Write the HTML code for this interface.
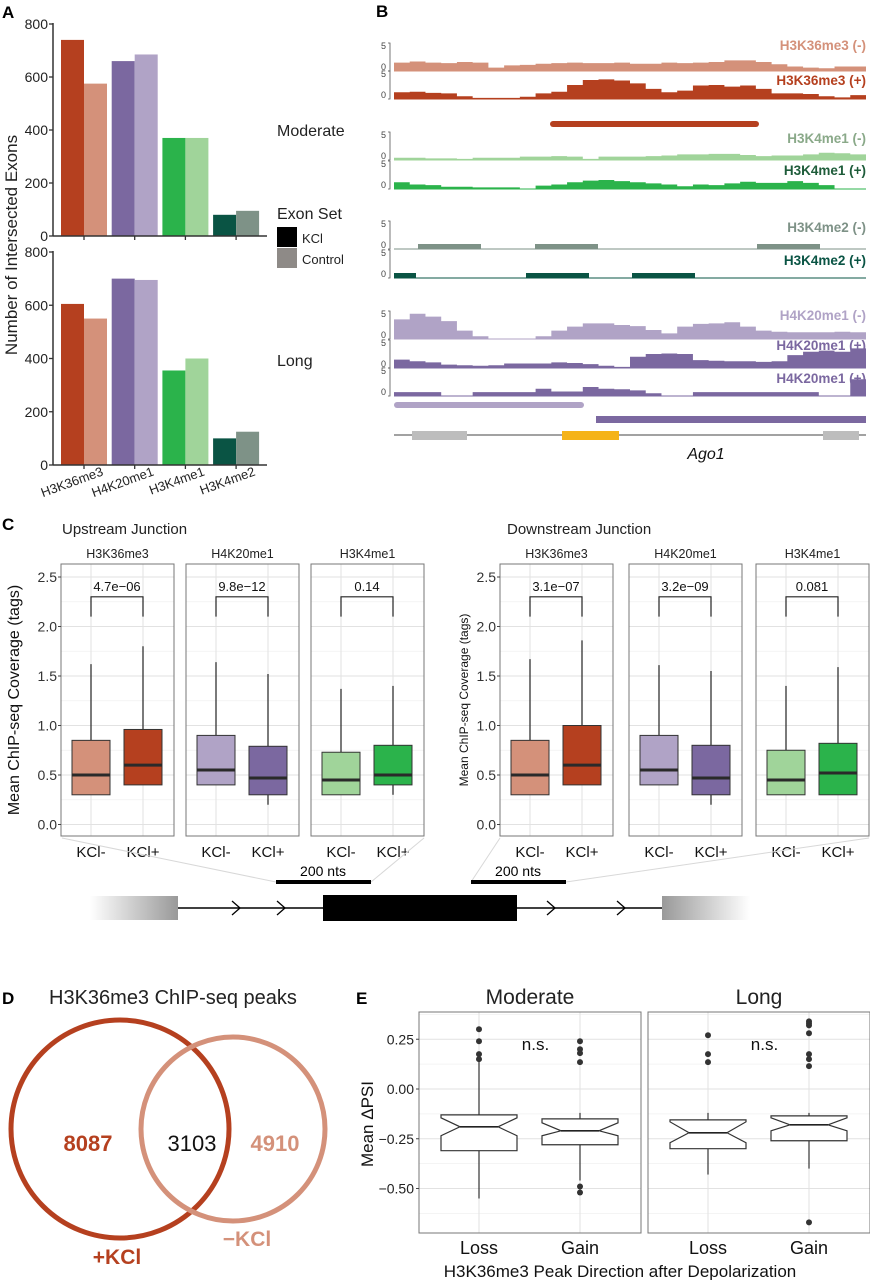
<!DOCTYPE html>
<html><head><meta charset="utf-8"><style>
html,body{margin:0;padding:0;background:#fff}
svg{display:block;font-family:"Liberation Sans",sans-serif}
</style></head><body>
<svg id="fig" width="870" height="1280" viewBox="0 0 870 1280" xmlns="http://www.w3.org/2000/svg">
<g id="gA"></g>
<g id="gB"></g>
<g id="gC"></g>
<g id="gD"></g>
<g id="gE"></g>
</svg>
<script>
// ---------- Panel A data ----------
const marks = ["H3K36me3","H4K20me1","H3K4me1","H3K4me2"];
const moderateKCl = [740,660,370,80];
const moderateControl = [575,685,370,95];
const longKCl = [605,700,355,100];
const longControl = [550,695,400,125];
const aTicks = [0,200,400,600,800];
// ---------- Panel B data (coverage 0-5) ----------
const h3k36Minus = [1.5,1.7,1.5,1.4,1.6,1.5,0.6,1.0,1.1,1.3,1.4,1.5,1.4,1.4,1.5,1.3,1.3,1.5,1.4,1.5,1.6,1.9,1.9,1.6,1.2,0.8,0.6,0.5,0.8,0.8];
const h3k36Plus = [1.2,1.3,1.1,1.0,0.5,0.2,0.2,0.2,0.4,1.0,1.3,2.5,3.4,3.5,3.3,2.8,1.8,1.2,1.5,2.4,2.5,2.2,2.4,1.8,1.0,1.0,0.9,0.5,0.3,0.7];
const h3k4me1Minus = [0.4,0.4,0.3,0.3,0.2,0.4,0.4,0.4,0.6,0.6,0.7,0.6,0.2,0.6,0.6,0.6,0.7,0.8,1.0,1.0,1.1,1.1,0.9,0.7,0.8,0.8,1.0,1.3,1.2,1.0];
const h3k4me1Plus = [1.2,0.8,0.7,0.4,0.4,0.3,0.3,0.3,0.1,0.6,0.8,1.2,1.5,1.6,1.4,1.2,1.0,0.8,0.5,0.8,0.7,1.0,1.3,1.1,1.1,1.4,1.1,0.7,0.1,0.1];
const h4k20Minus = [3.5,4.5,4.0,3.2,1.5,0.5,0.1,0.1,0.1,0.5,1.5,2.2,2.8,2.8,2.5,2.3,1.6,1.0,2.2,2.7,2.8,3.0,2.2,1.5,1.3,1.2,1.2,1.2,1.3,1.2];
const h4k20Plus = [1.5,1.2,1.0,0.6,0.5,0.4,0.5,0.8,0.8,0.8,1.0,0.9,0.7,0.4,0.2,2.0,2.5,2.6,2.5,1.4,1.3,1.2,1.2,1.1,1.2,2.3,2.9,3.1,2.9,3.5];
const h4k20Plus2 = [0.7,0.7,0.7,0.1,0.1,0.7,0.7,0.7,0.7,1.3,0.8,0.8,1.6,1.3,1.2,1.0,0.5,0.1,0.1,0.7,0.7,0.7,0.7,0.7,0.7,0.7,0.7,0.1,0.1,3.0];
// ---------- Panel C data [q1, median, q3, whiskerLow, whiskerHigh] ----------
const cGroups = ["KCl-","KCl+"];
const cFacets = ["H3K36me3","H4K20me1","H3K4me1"];
const upStats = [
 [[0.3,0.5,0.85,0.3,1.62],[0.4,0.6,0.96,0.4,1.8]],
 [[0.4,0.55,0.9,0.4,1.64],[0.3,0.47,0.79,0.2,1.52]],
 [[0.3,0.45,0.73,0.3,1.37],[0.4,0.5,0.8,0.3,1.4]]];
const downStats = [
 [[0.3,0.5,0.85,0.3,1.67],[0.4,0.6,1.0,0.4,1.86]],
 [[0.4,0.55,0.9,0.4,1.61],[0.3,0.47,0.8,0.2,1.55]],
 [[0.3,0.45,0.75,0.3,1.4],[0.3,0.52,0.82,0.3,1.59]]];
const upP = ["4.7e\u221206","9.8e\u221212","0.14"];
const downP = ["3.1e\u221207","3.2e\u221209","0.081"];
const cTicks = [0,0.5,1.0,1.5,2.0,2.5];
// ---------- Panel D data ----------
const vennCounts = [8087,3103,4910];
// ---------- Panel E data [q1, median, q3, notchLow, notchHigh, whiskerLow, whiskerHigh] ----------
const eFacets = ["Moderate","Long"];
const eGroups = ["Loss","Gain"];
const eStats = [
 [[-0.31,-0.19,-0.13,-0.235,-0.145,-0.55,0.14],[-0.28,-0.21,-0.15,-0.235,-0.17,-0.46,-0.12]],
 [[-0.30,-0.22,-0.155,-0.27,-0.165,-0.43,-0.12],[-0.26,-0.18,-0.135,-0.21,-0.145,-0.40,-0.12]]];
const eOutliers = [
 [[0.30,0.24,0.175,0.15],[0.24,0.20,0.18,0.135,-0.49,-0.52]],
 [[0.27,0.175,0.135],[0.34,0.33,0.32,0.28,0.175,0.15,0.115,-0.67]]];
const eTicks = [0.25,0,-0.25,-0.5];
const eTickLabels = ["0.25","0.00","\u22120.25","\u22120.50"];

const NS="http://www.w3.org/2000/svg";
function mk(parent,tag,attrs,text){const e=document.createElementNS(NS,tag);for(const k in attrs)e.setAttribute(k,attrs[k]);if(text!==undefined)e.textContent=text;parent.appendChild(e);return e;}

// ================= PANEL A =================
const gA=document.getElementById('gA');
const colKCl={H3K36me3:"#b5401f",H4K20me1:"#7b68a0",H3K4me1:"#2bb34b",H3K4me2:"#0a5444"};
const colCtl={H3K36me3:"#d4917a",H4K20me1:"#b0a3c6",H3K4me1:"#a0d49a",H3K4me2:"#7e9287"};
let t=mk(gA,'text',{x:2,y:18,'font-size':17,'font-weight':'bold'},'A');


function xA(i){return 84+i*50.7;}
function drawBarPanel(zeroY,topY,kcl,ctl,nm){
  const yS=v=>zeroY-(v/800)*(zeroY-topY);
  const g=mk(gA,'g',{});
  
  
  marks.forEach((m,i)=>{
    let r=mk(g,'rect',{x:xA(i)-23,y:yS(kcl[i]),width:23,height:zeroY-yS(kcl[i]),fill:colKCl[m]});
    
    
    let r2=mk(g,'rect',{x:xA(i),y:yS(ctl[i]),width:23,height:zeroY-yS(ctl[i]),fill:colCtl[m]});
    
    
    mk(g,'line',{x1:xA(i),x2:xA(i),y1:zeroY,y2:zeroY+4,stroke:'#333','stroke-width':1.3});
  });
  mk(g,'line',{x1:53,x2:53,y1:topY-1,y2:zeroY,stroke:'#333','stroke-width':1.5});
  mk(g,'line',{x1:53,x2:267,y1:zeroY,y2:zeroY,stroke:'#333','stroke-width':1.5});
  aTicks.forEach(v=>{
    mk(g,'line',{x1:49,x2:53,y1:yS(v),y2:yS(v),stroke:'#333','stroke-width':1.3});
    let tl=mk(g,'text',{x:48,y:yS(v)+5,'font-size':14,'text-anchor':'end',fill:'#222'},String(v));
    
    
  });
}
drawBarPanel(236,24,moderateKCl,moderateControl,'moderate');
drawBarPanel(465,252,longKCl,longControl,'long');
marks.forEach((m,i)=>{
  let tl=mk(gA,'text',{x:xA(i)+20,y:475,'font-size':13,'text-anchor':'end',transform:`rotate(-20 ${xA(i)+20} 475)`,fill:'#222'},m);
  
  
});
t=mk(gA,'text',{x:17,y:245,'font-size':17,'text-anchor':'middle',transform:'rotate(-90 17 245)',fill:'#222'},'Number of Intersected Exons');


t=mk(gA,'text',{x:277,y:136,'font-size':16,fill:'#222'},'Moderate');


t=mk(gA,'text',{x:277,y:366,'font-size':16,fill:'#222'},'Long');


t=mk(gA,'text',{x:277,y:219,'font-size':16,fill:'#222'},'Exon Set');


let lg=mk(gA,'g',{});


mk(lg,'rect',{x:277,y:227,width:20,height:20,fill:'#000'});
mk(lg,'text',{x:302,y:243,'font-size':13,fill:'#222'},'KCl');
lg=mk(gA,'g',{});


mk(lg,'rect',{x:277,y:248,width:20,height:20,fill:'#8e8a87'});
mk(lg,'text',{x:302,y:264,'font-size':13,fill:'#222'},'Control');

// ================= PANEL B =================
const gB=document.getElementById('gB');
t=mk(gB,'text',{x:376,y:17,'font-size':17,'font-weight':'bold'},'B');


const bx0=394,bx1=866;
function scaleLabels(g,base){
  mk(g,'path',{d:`M388,${base-28} H390 V${base} H388`,fill:'none',stroke:'#555','stroke-width':0.8});
  mk(g,'text',{x:386,y:base-22,'font-size':9,'text-anchor':'end',fill:'#444'},'5');
  mk(g,'text',{x:386,y:base-1,'font-size':9,'text-anchor':'end',fill:'#444'},'0');
}
function track(vals,base,color,label,lcolor,ly,nm){
  const g=mk(gB,'g',{});
  
  
  const w=(bx1-bx0)/vals.length;
  let d=`M${bx0},${base}`;
  vals.forEach((v,i)=>{const y=base-v/5*28;d+=` L${bx0+i*w},${y} L${bx0+(i+1)*w},${y}`;});
  d+=` L${bx1},${base} Z`;
  mk(g,'path',{d:d,fill:color});
  mk(g,'line',{x1:bx0,x2:bx1,y1:base,y2:base,stroke:color,'stroke-width':1});
  scaleLabels(g,base);
  mk(g,'text',{x:866,y:ly,'font-size':13.5,'font-weight':'bold','text-anchor':'end',fill:lcolor},label);
}
track(h3k36Minus,71,'#d4917a','H3K36me3 (-)','#d4917a',50,'track-h3k36me3-minus');
track(h3k36Plus,99,'#b5401f','H3K36me3 (+)','#b5401f',85,'track-h3k36me3-plus');
mk(gB,'rect',{x:550,y:121,width:209,height:6,rx:3,fill:'#b5401f'});
track(h3k4me1Minus,160,'#a0d49a','H3K4me1 (-)','#8aa989',143,'track-h3k4me1-minus');
track(h3k4me1Plus,189,'#2bb34b','H3K4me1 (+)','#1e5c3a',175,'track-h3k4me1-plus');
function blockTrack(blocks,base,color,label,lcolor,ly,nm){
  const g=mk(gB,'g',{});
  
  
  mk(g,'line',{x1:bx0,x2:bx1,y1:base,y2:base,stroke:color,'stroke-width':1});
  blocks.forEach(b=>mk(g,'rect',{x:b[0],y:base-5,width:b[1]-b[0],height:5,fill:color}));
  scaleLabels(g,base);
  mk(g,'text',{x:866,y:ly,'font-size':13.5,'font-weight':'bold','text-anchor':'end',fill:lcolor},label);
}
blockTrack([[418,481],[535,598],[757,820]],249,'#7e9287','H3K4me2 (-)','#7e9287',232,'track-h3k4me2-minus');
blockTrack([[394,416],[526,589],[632,695]],278,'#0a5444','H3K4me2 (+)','#0a5444',265,'track-h3k4me2-plus');
track(h4k20Minus,339,'#b0a3c6','H4K20me1 (-)','#b0a3c6',320,'track-h4k20me1-minus');
track(h4k20Plus,368,'#7b68a0','H4K20me1 (+)','#7b68a0',350,'track-h4k20me1-plus');
track(h4k20Plus2,396,'#7b68a0','H4K20me1 (+)','#7b68a0',383,'track-h4k20me1-plus-2');
mk(gB,'rect',{x:394,y:402,width:190,height:6,rx:3,fill:'#b0a3c6'});
mk(gB,'rect',{x:596,y:416,width:270,height:7,fill:'#7b68a0'});
let gene=mk(gB,'g',{});


mk(gene,'line',{x1:394,x2:866,y1:435,y2:435,stroke:'#444','stroke-width':1});
mk(gene,'rect',{x:412,y:431,width:55,height:9,fill:'#bdbdbd'});
mk(gene,'rect',{x:823,y:431,width:36,height:9,fill:'#bdbdbd'});
mk(gene,'rect',{x:562,y:431,width:57,height:9,fill:'#f5b318'});
mk(gene,'text',{x:706,y:459,'font-size':16,'font-style':'italic','text-anchor':'middle',fill:'#111'},'Ago1');

// ================= PANEL C =================
const gC=document.getElementById('gC');
t=mk(gC,'text',{x:2,y:530,'font-size':17,'font-weight':'bold'},'C');


const cZero=824.5,cUnit=99;
const yC=v=>cZero-v*cUnit;
const cMinusCol=["#d4917a","#b0a3c6","#a0d49a"];
const cPlusCol=["#b5401f","#7b68a0","#2bb34b"];
function drawJunction(facetX,stats,pvals,title,titleX,nm,tickX){
  const g=mk(gC,'g',{});
  
  
  mk(g,'text',{x:titleX,y:534,'font-size':15,fill:'#222'},title);
  facetX.forEach((fx,f)=>{
    const x0=fx,x1=fx+113,top=564,bot=836;
    const fg=mk(g,'g',{});
    
    
    mk(fg,'text',{x:(x0+x1)/2,y:558,'font-size':12.5,'text-anchor':'middle',fill:'#222'},cFacets[f]);
    for(let v=0.25;v<2.7;v+=0.5) mk(fg,'line',{x1:x0,x2:x1,y1:yC(v),y2:yC(v),stroke:'#f0f0f0','stroke-width':0.7});
    cTicks.forEach(v=>mk(fg,'line',{x1:x0,x2:x1,y1:yC(v),y2:yC(v),stroke:'#e2e2e2','stroke-width':1}));
    const cx=[x0+30,x0+82];
    cx.forEach(c=>mk(fg,'line',{x1:c,x2:c,y1:top,y2:bot,stroke:'#e2e2e2','stroke-width':1}));
    stats[f].forEach((s,k)=>{
      const c=cx[k];
      mk(fg,'line',{x1:c,x2:c,y1:yC(s[4]),y2:yC(s[3]),stroke:'#333','stroke-width':1.3});
      let b=mk(fg,'rect',{x:c-19,y:yC(s[2]),width:38,height:yC(s[0])-yC(s[2]),fill:k?cPlusCol[f]:cMinusCol[f],stroke:'#333','stroke-width':1});
      
      
      mk(fg,'line',{x1:c-19,x2:c+19,y1:yC(s[1]),y2:yC(s[1]),stroke:'#2a2a2a','stroke-width':3});
      mk(fg,'text',{x:c,y:857,'font-size':15,'text-anchor':'middle',fill:'#111'},cGroups[k]);
    });
    mk(fg,'path',{d:`M${cx[0]},${yC(2.1)} V${yC(2.3)} H${cx[1]} V${yC(2.1)}`,fill:'none',stroke:'#222','stroke-width':1.2});
    mk(fg,'text',{x:(cx[0]+cx[1])/2,y:yC(2.36),'font-size':13,'text-anchor':'middle',fill:'#111'},pvals[f]);
    mk(fg,'rect',{x:x0,y:top,width:113,height:bot-top,fill:'none',stroke:'#777','stroke-width':1});
  });
  cTicks.forEach(v=>{
    mk(g,'line',{x1:facetX[0]-3,x2:facetX[0],y1:yC(v),y2:yC(v),stroke:'#444'});
    mk(g,'text',{x:tickX,y:yC(v)+5,'font-size':14,'text-anchor':'end',fill:'#333'},v.toFixed(1));
  });
}
drawJunction([61,186,311],upStats,upP,'Upstream Junction',62,'upstream-junction',57);
drawJunction([500,629,756],downStats,downP,'Downstream Junction',507,'downstream-junction',496);
t=mk(gC,'text',{x:19,y:700,'font-size':16,'text-anchor':'middle',transform:'rotate(-90 19 700)',fill:'#111'},'Mean ChIP-seq Coverage (tags)');


t=mk(gC,'text',{x:468,y:700,'font-size':12,'text-anchor':'middle',transform:'rotate(-90 468 700)',fill:'#111'},'Mean ChIP-seq Coverage (tags)');


// junction diagram
const dg=mk(gC,'g',{});


const defs=mk(dg,'defs',{});
let lgL=mk(defs,'linearGradient',{id:'gl',x1:0,x2:1,y1:0,y2:0});
mk(lgL,'stop',{offset:0,'stop-color':'#fff'});mk(lgL,'stop',{offset:1,'stop-color':'#999'});
let lgR=mk(defs,'linearGradient',{id:'gr',x1:0,x2:1,y1:0,y2:0});
mk(lgR,'stop',{offset:0,'stop-color':'#999'});mk(lgR,'stop',{offset:1,'stop-color':'#fff'});
[[276,882,62,838],[371,882,424,838],[471,882,500,838],[566,882,869,838]].forEach(l=>mk(dg,'line',{x1:l[0],y1:l[1],x2:l[2],y2:l[3],stroke:'#d8d8d8','stroke-width':1}));
mk(dg,'rect',{x:90,y:896,width:88,height:24,fill:'url(#gl)'});
mk(dg,'rect',{x:662,y:896,width:88,height:24,fill:'url(#gr)'});
mk(dg,'line',{x1:178,x2:662,y1:908,y2:908,stroke:'#000','stroke-width':1.5});
mk(dg,'rect',{x:323,y:895,width:194,height:26,fill:'#000'});
[240,285,555,625].forEach(x=>mk(dg,'path',{d:`M${x-8},${901} L${x},908 L${x-8},915`,fill:'none',stroke:'#000','stroke-width':1.3}));
mk(dg,'rect',{x:276,y:880,width:95,height:4,fill:'#000'});
mk(dg,'rect',{x:471,y:880,width:95,height:4,fill:'#000'});
mk(dg,'text',{x:323,y:876,'font-size':14,'text-anchor':'middle'},'200 nts');
mk(dg,'text',{x:518,y:876,'font-size':14,'text-anchor':'middle'},'200 nts');

// ================= PANEL D =================
const gD=document.getElementById('gD');
t=mk(gD,'text',{x:2,y:1004,'font-size':17,'font-weight':'bold'},'D');


t=mk(gD,'text',{x:49,y:1004,'font-size':20,fill:'#222'},'H3K36me3 ChIP-seq peaks');


let c1=mk(gD,'circle',{cx:120,cy:1129,r:109,fill:'none',stroke:'#b5401f','stroke-width':5});


let c2=mk(gD,'circle',{cx:233,cy:1129,r:92,fill:'none',stroke:'#d4917a','stroke-width':5});


t=mk(gD,'text',{x:88,y:1151,'font-size':22,'font-weight':'bold','text-anchor':'middle',fill:'#b5401f'},String(vennCounts[0]));


t=mk(gD,'text',{x:192,y:1151,'font-size':22,'text-anchor':'middle',fill:'#111'},String(vennCounts[1]));


t=mk(gD,'text',{x:275,y:1151,'font-size':22,'font-weight':'bold','text-anchor':'middle',fill:'#d4917a'},String(vennCounts[2]));


t=mk(gD,'text',{x:117,y:1264,'font-size':21,'font-weight':'bold','text-anchor':'middle',fill:'#b5401f'},'+KCl');


t=mk(gD,'text',{x:247,y:1246,'font-size':21,'font-weight':'bold','text-anchor':'middle',fill:'#d4917a'},'\u2212KCl');



// ================= PANEL E =================
const gE=document.getElementById('gE');
t=mk(gE,'text',{x:356,y:1004,'font-size':17,'font-weight':'bold'},'E');


const eZero=1089,eUnit=199;
const yE=v=>eZero-v*eUnit;
const eFX=[419,648],eW=222,eTop=1012,eBot=1233;
eFacets.forEach((fn,f)=>{
  const x0=eFX[f],x1=x0+eW;
  const g=mk(gE,'g',{});
  
  
  mk(g,'text',{x:(x0+x1)/2,y:1004,'font-size':21,'text-anchor':'middle',fill:'#222'},fn);
  [0.375,0.125,-0.125,-0.375,-0.625].forEach(v=>mk(g,'line',{x1:x0,x2:x1,y1:yE(v),y2:yE(v),stroke:'#f0f0f0','stroke-width':0.7}));
  eTicks.forEach(v=>mk(g,'line',{x1:x0,x2:x1,y1:yE(v),y2:yE(v),stroke:'#e2e2e2','stroke-width':1}));
  const cx=[x0+60,x0+161];
  cx.forEach(c=>mk(g,'line',{x1:c,x2:c,y1:eTop,y2:eBot,stroke:'#e2e2e2','stroke-width':1}));
  eStats[f].forEach((s,k)=>{
    const c=cx[k],hw=38,nw=19;
    mk(g,'line',{x1:c,x2:c,y1:yE(s[6]),y2:yE(s[5]),stroke:'#333','stroke-width':1.2});
    const d=`M${c-hw},${yE(s[2])} H${c+hw} V${yE(s[4])} L${c+nw},${yE(s[1])} L${c+hw},${yE(s[3])} V${yE(s[0])} H${c-hw} V${yE(s[3])} L${c-nw},${yE(s[1])} L${c-hw},${yE(s[4])} Z`;
    let b=mk(g,'path',{d:d,fill:'#fff',stroke:'#333','stroke-width':1.2});
    
    
    mk(g,'line',{x1:c-nw,x2:c+nw,y1:yE(s[1]),y2:yE(s[1]),stroke:'#222','stroke-width':1.6});
    eOutliers[f][k].forEach(o=>{
      let p=mk(g,'circle',{cx:c,cy:yE(o),r:3,fill:'#333'});
      
      
    });
    mk(g,'text',{x:c,y:1254,'font-size':18,'text-anchor':'middle',fill:'#111'},eGroups[k]);
  });
  mk(g,'text',{x:(cx[0]+cx[1])/2+6,y:1050,'font-size':17,'text-anchor':'middle',fill:'#111'},'n.s.');
  mk(g,'rect',{x:x0,y:eTop,width:eW,height:eBot-eTop,fill:'none',stroke:'#777','stroke-width':1});
});
eTicks.forEach((v,i)=>{
  mk(gE,'line',{x1:416,x2:419,y1:yE(v),y2:yE(v),stroke:'#444'});
  mk(gE,'text',{x:414,y:yE(v)+5,'font-size':14,'text-anchor':'end',fill:'#222'},eTickLabels[i]);
});
t=mk(gE,'text',{x:373,y:1124,'font-size':17,'text-anchor':'middle',transform:'rotate(-90 373 1124)',fill:'#111'},'Mean \u0394PSI');


t=mk(gE,'text',{x:620,y:1277,'font-size':17,'text-anchor':'middle',fill:'#111'},'H3K36me3 Peak Direction after Depolarization');


</script>
</body></html>
